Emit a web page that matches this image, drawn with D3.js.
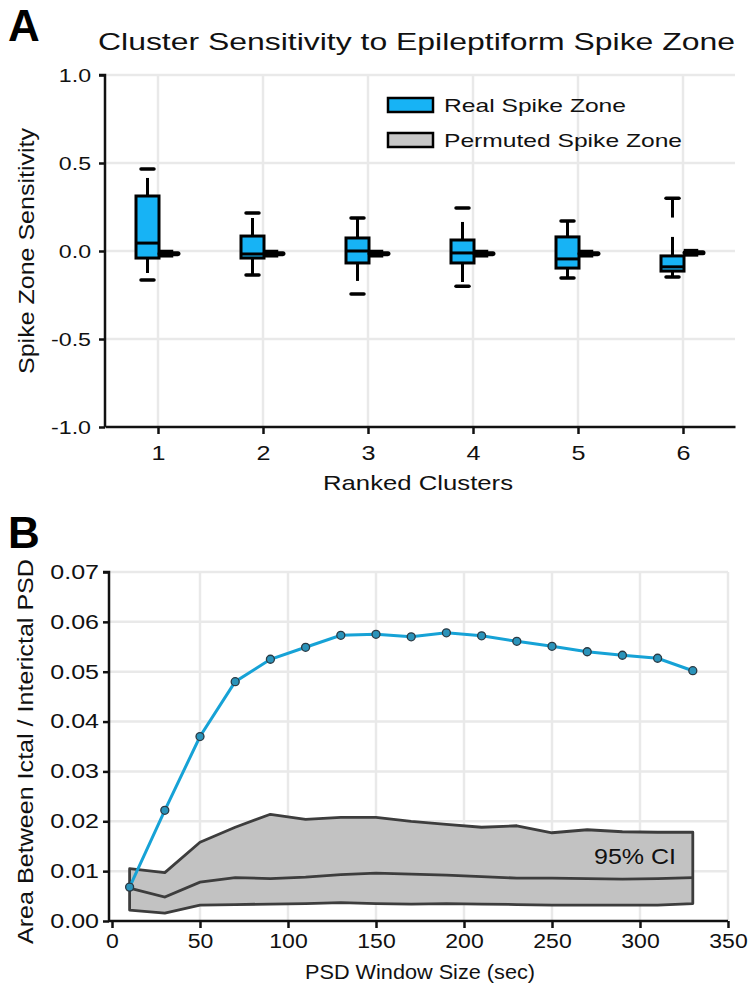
<!DOCTYPE html>
<html><head><meta charset="utf-8">
<script src="https://cdn.jsdelivr.net/npm/d3@7"></script>
<style>
html,body{margin:0;padding:0;background:#fff;}
svg{display:block;font-family:"Liberation Sans",Arial,Helvetica,sans-serif;}
</style></head>
<body><svg id="c" width="750" height="992"></svg>
<script>
// ---------- Panel A data ----------
const clusters = [1, 2, 3, 4, 5, 6];
const realQ1 = [-0.04, -0.04, -0.068, -0.068, -0.097, -0.114];
const realMedian = [0.045, -0.017, 0.0, -0.011, -0.045, -0.09];
const realQ3 = [0.3125, 0.085, 0.074, 0.0625, 0.08, -0.028];
const realWhiskerLo = [-0.125, -0.136, -0.17, -0.176, -0.153, -0.148];
const realWhiskerHi = [0.415, 0.1875, 0.1875, 0.165, 0.17, 0.08];
const realCapLo = [-0.165, -0.136, -0.244, -0.2, -0.153, -0.148];
const realCapHi = [0.466, 0.216, 0.1875, 0.244, 0.17, 0.30];
const realCapHiStem = [0.466, 0.216, 0.1875, 0.244, 0.17, 0.19];
const permQ1 = [-0.03, -0.03, -0.03, -0.03, -0.03, -0.025];
const permMedian = [-0.015, -0.015, -0.015, -0.015, -0.015, -0.01];
const permQ3 = [0.0, 0.0, 0.0, 0.0, 0.0, 0.005];
const yTicksA = [-1.0, -0.5, 0.0, 0.5, 1.0];
const legendLabels = ["Real Spike Zone", "Permuted Spike Zone"];

// ---------- Panel B data ----------
const windowSizes = [10, 30, 50, 70, 90, 110, 130, 150, 170, 190, 210, 230, 250, 270, 290, 310, 330];
const realArea = [0.0068, 0.0222, 0.037, 0.048, 0.0525, 0.0549, 0.0573, 0.0575, 0.057, 0.0578, 0.0572, 0.0561, 0.0551, 0.054, 0.0533, 0.0527, 0.0502];
const ciUpper = [0.0105, 0.0097, 0.0158, 0.0188, 0.0214, 0.0204, 0.0208, 0.0208, 0.0200, 0.0194, 0.0188, 0.0191, 0.0177, 0.0183, 0.0179, 0.0178, 0.0178];
const ciMiddle = [0.0066, 0.0048, 0.0078, 0.0087, 0.0085, 0.0088, 0.0093, 0.0096, 0.0094, 0.0092, 0.0089, 0.0086, 0.0086, 0.0085, 0.0084, 0.0085, 0.0087];
const ciLower = [0.0022, 0.0016, 0.0032, 0.0033, 0.0034, 0.0035, 0.0037, 0.0035, 0.0034, 0.0035, 0.0034, 0.0033, 0.0032, 0.0032, 0.0032, 0.0032, 0.0035];
const yTicksB = [0.00, 0.01, 0.02, 0.03, 0.04, 0.05, 0.06, 0.07];
const xTicksB = [0, 50, 100, 150, 200, 250, 300, 350];

const svg = d3.select("#c");
const GRID = "#e9e9e9";
const BOXBLUE = "#17b3f5";
const LINEBLUE = "#16a2d6";

function stretch(sel, sx) {
  sel.each(function () {
    const w = this.getComputedTextLength();
    this.setAttribute("textLength", (w * sx).toFixed(1));
    this.setAttribute("lengthAdjust", "spacingAndGlyphs");
  });
}
function fitText(sel, width) {
  sel.attr("textLength", width).attr("lengthAdjust", "spacingAndGlyphs");
}
function styleAxis(ax, fs, sx) {
  ax.select(".domain").attr("stroke", "#111").attr("stroke-width", 2.5);
  ax.selectAll(".tick line").attr("stroke", "#111").attr("stroke-width", 2.5);
  const t = ax.selectAll(".tick text").attr("fill", "#111")
    .style("font-size", fs + "px").style("font-family", "'Liberation Sans',Arial,sans-serif");
  stretch(t, sx);
}

// ================= PANEL A =================
const xA = d3.scaleLinear().domain([0.5, 6.5]).range([105.5, 735.5]);
const yA = d3.scaleLinear().domain([-1, 1]).range([427, 75]);
const gA = svg.append("g");

gA.selectAll(".hg").data(yTicksA.filter(d => d > -1)).join("line")
  .attr("x1", 106).attr("x2", 735).attr("y1", d => yA(d)).attr("y2", d => yA(d))
  .attr("stroke", GRID).attr("stroke-width", 2.5);
gA.selectAll(".vg").data(clusters).join("line")
  .attr("x1", d => xA(d)).attr("x2", d => xA(d)).attr("y1", 75).attr("y2", 426)
  .attr("stroke", GRID).attr("stroke-width", 2.5);

const axYA = gA.append("g").attr("transform", "translate(105,0)")
  .call(d3.axisLeft(yA).tickValues(yTicksA).tickFormat(d => d3.format(".1f")(d).replace("−", "-")).tickSize(6).tickPadding(8));
const axXA = gA.append("g").attr("transform", "translate(0,427)")
  .call(d3.axisBottom(xA).tickValues(clusters).tickFormat(d3.format("d")).tickSize(7).tickPadding(11));
styleAxis(axYA, 19, 1.22);
styleAxis(axXA, 21, 1.2);
axYA.select(".domain").attr("d", "M-6,75H0V427");
axXA.select(".domain").attr("d", "M105.5,0H735.5");

const rb = gA.selectAll(".rb").data(clusters.map((c, i) => ({c, i}))).join("g");
const wx = d => xA(d.c) - 10.5;
rb.append("line").attr("x1", wx).attr("x2", wx)
  .attr("y1", d => yA(realQ3[d.i])).attr("y2", d => yA(realWhiskerHi[d.i]))
  .attr("stroke", "#000").attr("stroke-width", 3);
rb.append("line").attr("x1", wx).attr("x2", wx)
  .attr("y1", d => yA(realQ1[d.i])).attr("y2", d => yA(realWhiskerLo[d.i]))
  .attr("stroke", "#000").attr("stroke-width", 3);
rb.append("line").attr("x1", wx).attr("x2", wx)
  .attr("y1", d => yA(realCapHi[d.i])).attr("y2", d => yA(realCapHiStem[d.i]))
  .attr("stroke", "#000").attr("stroke-width", 3);
rb.append("line").attr("x1", d => xA(d.c) - 17).attr("x2", d => xA(d.c) - 4)
  .attr("y1", d => yA(realCapHi[d.i])).attr("y2", d => yA(realCapHi[d.i]))
  .attr("stroke", "#000").attr("stroke-width", 3.5).attr("stroke-linecap", "round");
rb.append("line").attr("x1", d => xA(d.c) - 17).attr("x2", d => xA(d.c) - 4)
  .attr("y1", d => yA(realCapLo[d.i])).attr("y2", d => yA(realCapLo[d.i]))
  .attr("stroke", "#000").attr("stroke-width", 3.5).attr("stroke-linecap", "round");
rb.append("rect").attr("x", d => xA(d.c) - 22).attr("width", 23)
  .attr("y", d => yA(realQ3[d.i])).attr("height", d => yA(realQ1[d.i]) - yA(realQ3[d.i]))
  .attr("fill", BOXBLUE).attr("stroke", "#000").attr("stroke-width", 3);
rb.append("line").attr("x1", d => xA(d.c) - 22).attr("x2", d => xA(d.c) + 1)
  .attr("y1", d => yA(realMedian[d.i])).attr("y2", d => yA(realMedian[d.i]))
  .attr("stroke", "#000").attr("stroke-width", 3);

const pb = gA.selectAll(".pb").data(clusters.map((c, i) => ({c, i}))).join("g");
pb.append("rect").attr("x", d => xA(d.c) + 2).attr("width", 12)
  .attr("y", d => yA(permQ3[d.i])).attr("height", d => yA(permQ1[d.i]) - yA(permQ3[d.i]))
  .attr("fill", "#222").attr("stroke", "#000").attr("stroke-width", 2.5);
pb.append("line").attr("x1", d => xA(d.c) + 2).attr("x2", d => xA(d.c) + 20)
  .attr("y1", d => yA(permMedian[d.i])).attr("y2", d => yA(permMedian[d.i]))
  .attr("stroke", "#000").attr("stroke-width", 5).attr("stroke-linecap", "round");

const legColors = [BOXBLUE, "#c8c8c8"];
const legWidths = [182, 238];
const lg = gA.selectAll(".lg").data(legendLabels).join("g")
  .attr("transform", (d, i) => `translate(388,${98 + i * 35})`);
lg.append("rect").attr("width", 45).attr("height", 14)
  .attr("fill", (d, i) => legColors[i]).attr("stroke", "#000").attr("stroke-width", 2.5);
lg.append("text").attr("x", 56).attr("y", 14).text(d => d)
  .style("font-size", "19px").attr("fill", "#111")
  .attr("textLength", (d, i) => legWidths[i]).attr("lengthAdjust", "spacingAndGlyphs");

svg.append("text").attr("x", 8).attr("y", 41).text("A")
  .style("font-size", "44px").style("font-weight", "bold").attr("fill", "#000");
fitText(svg.append("text").attr("x", 98).attr("y", 50)
  .text("Cluster Sensitivity to Epileptiform Spike Zone")
  .style("font-size", "24px").attr("fill", "#111"), 637);
fitText(svg.append("text").attr("transform", "translate(34,374) rotate(-90)")
  .text("Spike Zone Sensitivity").style("font-size", "22px").attr("fill", "#111"), 246);
fitText(svg.append("text").attr("x", 323).attr("y", 490)
  .text("Ranked Clusters").style("font-size", "21px").attr("fill", "#111"), 190);

// ================= PANEL B =================
const xB = d3.scaleLinear().domain([0, 350]).range([112, 728]);
const yB = d3.scaleLinear().domain([0, 0.07]).range([921, 572]);
const gB = svg.append("g");

gB.selectAll(".hg").data(yTicksB.filter(d => d > 0)).join("line")
  .attr("x1", 109).attr("x2", 728).attr("y1", d => yB(d)).attr("y2", d => yB(d))
  .attr("stroke", GRID).attr("stroke-width", 2.5);
gB.selectAll(".vg").data(xTicksB.filter(d => d > 0)).join("line")
  .attr("x1", d => xB(d)).attr("x2", d => xB(d)).attr("y1", 572).attr("y2", 920)
  .attr("stroke", GRID).attr("stroke-width", 2.5);

const axYB = gB.append("g").attr("transform", "translate(109,0)")
  .call(d3.axisLeft(yB).tickValues(yTicksB).tickFormat(d3.format(".2f")).tickSize(6).tickPadding(4));
const axXB = gB.append("g").attr("transform", "translate(0,921)")
  .call(d3.axisBottom(xB).tickValues(xTicksB).tickFormat(d3.format("d")).tickSize(7).tickPadding(6));
styleAxis(axYB, 20, 1.25);
styleAxis(axXB, 20, 1.15);
axYB.select(".domain").attr("d", "M-6,572H0V921");
axXB.select(".domain").attr("d", "M109,0H728");

const bandData = windowSizes.map((w, i) => ({w, lo: ciLower[i], hi: ciUpper[i], mid: ciMiddle[i]}));
const area = d3.area().x(d => xB(d.w)).y0(d => yB(d.lo)).y1(d => yB(d.hi));
gB.append("path").datum(bandData).attr("d", d => area(d) + "Z")
  .attr("fill", "#c2c2c2").attr("stroke", "#3d3d3d").attr("stroke-width", 2.8).attr("stroke-linejoin", "round");
gB.append("path").datum(bandData).attr("d", d3.line().x(d => xB(d.w)).y(d => yB(d.mid)))
  .attr("fill", "none").attr("stroke", "#3d3d3d").attr("stroke-width", 2.8);
fitText(gB.append("text").attr("x", 594).attr("y", 864)
  .text("95% CI").style("font-size", "22px").attr("fill", "#111"), 82);

const lineData = windowSizes.map((w, i) => ({w, v: realArea[i]}));
gB.append("path").datum(lineData).attr("d", d3.line().x(d => xB(d.w)).y(d => yB(d.v)))
  .attr("fill", "none").attr("stroke", LINEBLUE).attr("stroke-width", 3);
gB.selectAll(".pt").data(lineData).join("circle")
  .attr("cx", d => xB(d.w)).attr("cy", d => yB(d.v)).attr("r", 4)
  .attr("fill", "#2a93ba").attr("stroke", "#2b3a44").attr("stroke-width", 1.3);

svg.append("text").attr("x", 8).attr("y", 548).text("B")
  .style("font-size", "44px").style("font-weight", "bold").attr("fill", "#000");
fitText(svg.append("text").attr("transform", "translate(33,944) rotate(-90)")
  .text("Area Between Ictal / Interictal PSD").style("font-size", "22px").attr("fill", "#111"), 385);
fitText(svg.append("text").attr("x", 305).attr("y", 979)
  .text("PSD Window Size (sec)").style("font-size", "21px").attr("fill", "#111"), 230);
</script></body></html>
